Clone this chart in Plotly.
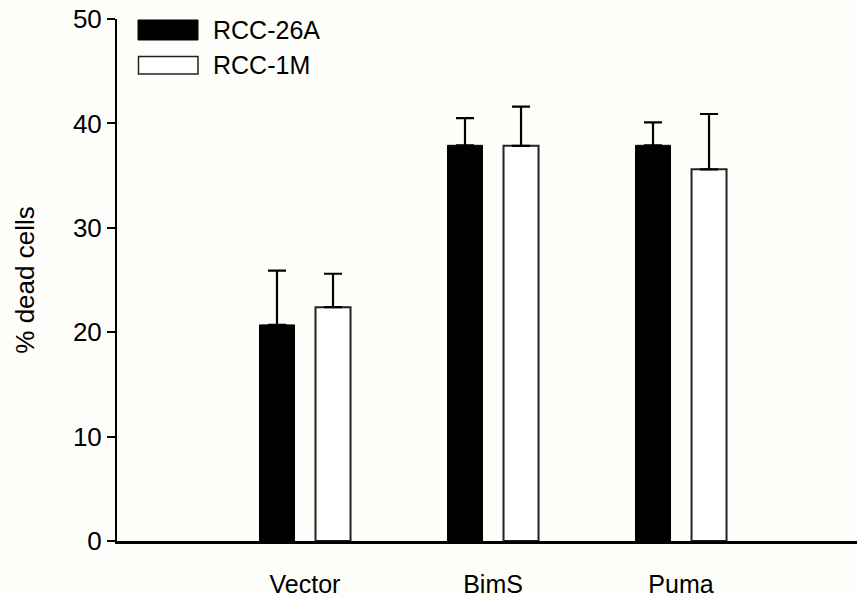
import plotly.graph_objects as go

categories = ["Vector", "BimS", "Puma"]
rcc26a = [20.7, 37.9, 37.9]
rcc26a_err = [5.2, 2.6, 2.2]
rcc1m = [22.4, 37.85, 35.6]
rcc1m_err = [3.2, 3.75, 5.3]
series_names = ["RCC-26A", "RCC-1M"]
y_ticks = [0, 10, 20, 30, 40, 50]

FONT = "Arial, Liberation Sans, sans-serif"
BG = "#fefefa"

fig = go.Figure()
fig.add_trace(go.Bar(
    x=categories, y=rcc26a, name=series_names[0],
    marker=dict(color="black", line=dict(color="black", width=1)),
    error_y=dict(type="data", symmetric=False, array=rcc26a_err,
                 arrayminus=[0] * len(rcc26a_err),
                 color="black", thickness=2.2, width=9),
))
fig.add_trace(go.Bar(
    x=categories, y=rcc1m, name=series_names[1],
    marker=dict(color="white", line=dict(color="#222222", width=2)),
    error_y=dict(type="data", symmetric=False, array=rcc1m_err,
                 arrayminus=[0] * len(rcc1m_err),
                 color="black", thickness=2.2, width=9),
))

L, R, T, B = 117, 1, 19, 57
W, H = 858, 598
pw, ph = W - L - R, H - T - B

def px(x):
    return (x - L) / pw

def py(y):
    return (H - B - y) / ph

# legend drawn manually (wide rectangles like the original)
fig.add_shape(type="rect", xref="paper", yref="paper",
              x0=px(138), x1=px(198), y0=py(40), y1=py(20),
              fillcolor="black", line=dict(color="black", width=1))
fig.add_shape(type="rect", xref="paper", yref="paper",
              x0=px(138.5), x1=px(198), y0=py(74), y1=py(56.5),
              fillcolor="white", line=dict(color="#222222", width=1.5))
fig.add_annotation(xref="paper", yref="paper", x=px(211), y=py(30),
                   text=series_names[0], showarrow=False, xanchor="left",
                   yanchor="middle", font=dict(family=FONT, size=25, color="black"))
fig.add_annotation(xref="paper", yref="paper", x=px(211), y=py(65),
                   text=series_names[1], showarrow=False, xanchor="left",
                   yanchor="middle", font=dict(family=FONT, size=25, color="black"))

fig.update_layout(
    width=W, height=H,
    margin=dict(l=L, r=R, t=T, b=B, pad=0, autoexpand=False),
    paper_bgcolor=BG, plot_bgcolor=BG,
    barmode="group", bargap=0.404, bargroupgap=0.375,
    showlegend=False,
    font=dict(family=FONT, size=24, color="black"),
    xaxis=dict(
        range=[-1.0, 2.936], showgrid=False, zeroline=False, automargin=False,
        showline=True, linecolor="black", linewidth=3,
        ticks="", ticklabelstandoff=19,
        tickfont=dict(family=FONT, size=25, color="black"),
    ),
    yaxis=dict(
        range=[0, 50], tickvals=y_ticks, showgrid=False, zeroline=False,
        automargin=False,
        showline=True, linecolor="black", linewidth=2,
        ticks="outside", ticklen=8, tickwidth=2, tickcolor="black",
        tickfont=dict(family=FONT, size=26, color="black"),
        title=dict(text="% dead cells", standoff=31,
                   font=dict(family=FONT, size=26, color="black")),
    ),
)

fig.write_html(
    "out.html",
    config={"displayModeBar": False},
    post_script="document.body.style.margin='0';document.body.style.overflow='hidden';",
)
